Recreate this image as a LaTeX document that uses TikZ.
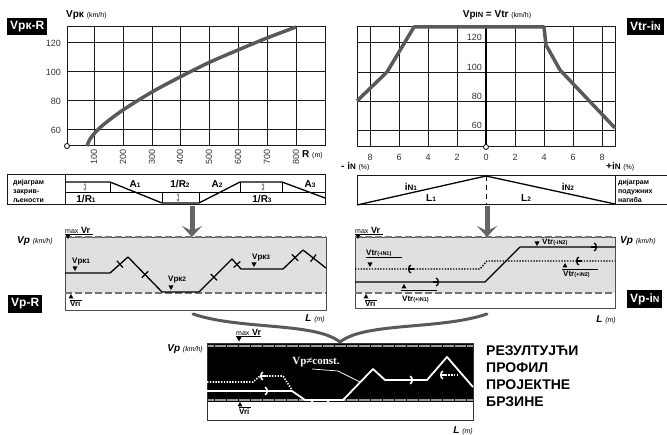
\documentclass[tikz,border=0pt]{standalone}
\usepackage{fontspec}
\setmainfont{Liberation Sans}
\newfontfamily\constfont{Liberation Serif}
\usetikzlibrary{arrows.meta,calc}
\tikzstyle{tag}=[fill=black, text=white, anchor=west, minimum height=17pt, inner xsep=3pt, font=\bfseries\fontsize{12}{12}\selectfont]
\tikzstyle{num}=[inner sep=1pt, text=black!80, font=\fontsize{9}{9}\selectfont]
\tikzstyle{axis}=[inner sep=1pt, anchor=west, font=\bfseries\fontsize{10}{10}\selectfont]
\tikzstyle{gridline}=[black!90, line width=1pt]
\tikzstyle{speed}=[black!65, line width=3.5pt, line join=round]
\tikzstyle{lab}=[inner sep=1pt, font=\bfseries\fontsize{10}{10}\selectfont]
\tikzstyle{small}=[inner sep=1pt, font=\bfseries\fontsize{8}{8}\selectfont]
\tikzstyle{note}=[inner sep=0pt, anchor=west, align=left, font=\bfseries\fontsize{7}{8.8}\selectfont]
\tikzstyle{limit}=[black!55, line width=1.6pt, dash pattern=on 7pt off 3pt]
\tikzstyle{prof}=[black, line width=1.3pt, line join=round]
\tikzstyle{dots}=[prof, dash pattern=on 1.4pt off 1.4pt]
\tikzstyle{bar}=[black, line width=1.2pt]
\tikzstyle{barb}=[-{Arc Barb[length=3pt,width=9pt]}]
\tikzstyle{gap}=[black!45, line width=0.7pt, {Latex[length=2.5pt,width=3.5pt]}-{Latex[length=2.5pt,width=3.5pt]}]
\tikzstyle{bigarrow}=[black!60, line width=5pt, -{Stealth[length=11pt,width=20pt,inset=5pt]}]
\tikzstyle{brace}=[black!65, line width=3pt, line cap=round]
\newcommand{\low}[1]{{\fontsize{6.5}{6.5}\selectfont #1}}
\newcommand{\unitx}[1]{{\mdseries\fontsize{7}{7}\selectfont #1}}
\newcommand{\vtr}[1]{Vtr{\fontsize{5.5}{5.5}\selectfont(#1)}}
\newcommand{\dtri}[2]{\fill (#1-2.5,#2-4.5) -- (#1+2.5,#2-4.5) -- (#1,#2) -- cycle;}
\newcommand{\utri}[2]{\fill (#1-2.5,#2+4.5) -- (#1+2.5,#2+4.5) -- (#1,#2) -- cycle;}

\begin{document}
\begin{tikzpicture}[x=1pt,y=-1pt]
\useasboundingbox (0,0) rectangle (667,435);

% Vpk - R
\node[tag] (vkr) at (7,26.5) {Vpк-R};
\foreach \x in {94,123,152,180,209,238,267,296} \draw[gridline] (\x,27) -- (\x,146);
\foreach \y in {43,72,101,130} \draw[gridline] (67,\y) -- (325,\y);
\draw[gridline] (67,27) rectangle (325,146);
\draw[speed] plot[smooth] coordinates {(87,146) (89,141) (93,135) (103,125) (123,110) (152,92) (180,77) (208,63) (238,50) (267,38) (296,27)};
\foreach \y/\v in {43/120,72/100,101/80,130/60} \node[num, anchor=east] at (62,\y) {\v};
\foreach \x/\r in {94/100,123/200,152/300,180/400,209/500,238/600,267/700,296/800} \node[num, rotate=90] at (\x,157) {\r};
\node[axis] (vk) at (65,15) {Vpк \unitx{(km/h)}};
\node[axis] (rm) at (301,155) {R \unitx{(m)}};
\draw[fill=white, line width=0.8pt] (67,146) circle (2.5pt);

% Vtr - iN
\node[tag] (vti) at (627,26.5) {Vtr-i{\fontsize{9}{9}\selectfont N}};
\foreach \x in {370,399,428,457,515,544,573,602} \draw[gridline] (\x,27) -- (\x,147);
\foreach \y in {43,73,102,131} \draw[gridline] (357,\y) -- (615,\y);
\draw[gridline] (357,27) rectangle (615,147);
\draw[black, line width=1.5pt] (486,27) -- (486,147);
\draw[speed] (357,101) -- (387,72) -- (402,47) -- (414,27) -- (544,27) -- (546,45) -- (560,70) -- (615,128);
\foreach \y/\v in {42/120,72/100,101/80,130/60} \node[num, anchor=south east] at (483,\y) {\v};
\foreach \x/\t in {370/8,399/6,428/4,457/2,486/0,515/2,544/4,573/6,602/8} \node[num] at (\x,157) {\t};
\node[lab] (vpin) at (497,15) {Vp{\fontsize{7.5}{7.5}\selectfont IN} = Vtr \unitx{(km/h)}};
\node[axis] (imin) at (340,167) {- i{\fontsize{8}{8}\selectfont N} \unitx{(\%)}};
\node[axis] (iplus) at (605,167) {+i{\fontsize{8}{8}\selectfont N} \unitx{(\%)}};
\draw[fill=white, line width=0.8pt] (486,147) circle (2.5pt);

% curvature diagram
\draw[gridline] (7,175) rectangle (325,205);
\draw[gridline] (65,175) -- (65,205);
\draw[black, line width=0.6pt] (65,192) -- (325,192);
\foreach \x/\a/\b in {110/182/192,162/192/203,199/192/203,240/182/192,282/182/192} \draw[black, line width=0.6pt] (\x,\a) -- (\x,\b);
\draw[prof] (65,182) -- (110,182) -- (162,203) -- (199,203) -- (240,182) -- (282,182) -- (325,198);
\foreach \x/\a/\b in {85/183/191,178/193/202,263/183/191} \draw[gap] (\x,\a) -- (\x,\b);
\node[note] (crv) at (13,191) {дијаграм\\закрив-\\љености};
\node[lab] (a1) at (135,184) {A\low{1}};
\node[lab] (r2) at (180,184) {1/R\low{2}};
\node[lab] (a2) at (217,184) {A\low{2}};
\node[lab] (a3) at (310,184) {A\low{3}};
\node[lab] (r1) at (86,199) {1/R\low{1}};
\node[lab] (r3) at (262,199) {1/R\low{3}};

% grade diagram
\draw[gridline] (357,176) rectangle (672,205);
\draw[gridline] (615,176) -- (615,205);
\draw[prof] (357,205) -- (486,176) -- (615,204);
\draw[black, line width=0.8pt, dash pattern=on 5pt off 4pt] (486,176) -- (486,205);
\node[note] (grd) at (618,191) {дијаграм\\подужних\\нагиба};
\node[lab] (in1) at (411,187) {i{\fontsize{8}{8}\selectfont N}\low{1}};
\node[lab] (l1) at (431,198) {L\low{1}};
\node[lab] (l2) at (526,198) {L\low{2}};
\node[lab] (in2) at (568,187) {i{\fontsize{8}{8}\selectfont N}\low{2}};

\draw[bigarrow] (192,206) -- (192,237);
\draw[bigarrow] (487,206) -- (487,237);

% Vp - R
\fill[black!12] (65,237) rectangle (326,293);
\draw[black!70, line width=0.8pt] (65,237) rectangle (326,310);
\draw[limit] (65,237) -- (326,237);
\draw[limit] (65,293) -- (326,293);
\coordinate (k0) at (65,273);
\coordinate (k1) at (110,273);
\coordinate (k2) at (128,257);
\coordinate (k3) at (162,292);
\coordinate (k4) at (199,292);
\coordinate (k5) at (232,259);
\coordinate (k6) at (241,269);
\coordinate (k7) at (283,269);
\coordinate (k8) at (303,250);
\coordinate (k9) at (326,268);
\draw[prof] (k0) -- (k1) -- (k2) -- (k3) -- (k4) -- (k5) -- (k6) -- (k7) -- (k8) -- (k9);
\foreach \a/\b/\p in {k1/k2/0.55,k2/k3/0.5,k4/k5/0.45,k5/k6/0.55,k7/k8/0.6,k8/k9/0.45}
  \draw[bar] ($(\a)!\p!(\b)!4.5pt!90:(\b)$) -- ($(\a)!\p!(\b)!4.5pt!-90:(\b)$);
\dtri{75}{271}
\node[small, anchor=west] (vk1) at (71,262) {Vpк\low{1}};
\dtri{171}{290}
\node[small, anchor=west] (vk2) at (167,280) {Vpк\low{2}};
\dtri{254}{267}
\node[small, anchor=west] (vk3) at (251,258) {Vpк\low{3}};
\node[axis] (vpl) at (16,241) {\itshape Vp \unitx{(km/h)}};
\node[inner sep=0pt, anchor=south west] (mxl) at (65,233.5) {\unitx{max} \textbf{\fontsize{9}{9}\selectfont Vr}};
\draw[black, line width=0.5pt] (65,234.5) -- (93,234.5);
\dtri{68}{239}
\utri{71}{294}
\draw[black, line width=0.5pt] (70,300) -- (82,300);
\node[small, anchor=north west, inner sep=0pt] (vril) at (70,301) {Vri};
\node[tag, minimum height=18pt] (vpr) at (8,304) {Vp-R};
\node[axis, anchor=east] (ll) at (326,319) {\itshape L \unitx{(m)}};

% Vp - iN
\fill[black!12] (355,237) rectangle (615,293);
\draw[black!70, line width=0.8pt] (355,237) rectangle (615,308);
\draw[limit] (355,237) -- (615,237);
\draw[limit] (355,293) -- (615,293);
\draw[prof] (355,282) -- (485,282) -- (520,247) -- (615,247);
\draw[dots] (355,269) -- (480,269) -- (487,261) -- (615,261);
\draw[prof, barb] (433,282) -- (439,282);
\draw[prof, barb] (591,247) -- (597,247);
\draw[prof, barb] (414,269) -- (408,269);
\draw[prof, barb] (582,261) -- (576,261);
\node[small, anchor=south west, inner sep=0pt] (t1) at (366,256.5) {\vtr{-iN1}};
\draw[black, line width=0.5pt] (366,257.5) -- (402,257.5);
\dtri{370}{267}
\dtri{537}{246}
\node[small, anchor=west] (t2) at (541,242) {\vtr{-iN2}};
\utri{565}{263}
\draw[black, line width=0.5pt] (562,269.5) -- (598,269.5);
\node[small, anchor=north west, inner sep=0pt] (t3) at (563,271) {\vtr{+iN2}};
\utri{404}{284}
\draw[black, line width=0.5pt] (401,290) -- (437,290);
\node[small, anchor=north west, inner sep=0pt] (t4) at (402,295.5) {\vtr{+iN1}};
\node[inner sep=0pt, anchor=south west] (mxr) at (355,233.5) {\unitx{max} \textbf{\fontsize{9}{9}\selectfont Vr}};
\draw[black, line width=0.5pt] (355,234.5) -- (383,234.5);
\dtri{358}{239}
\utri{366}{294}
\draw[black, line width=0.5pt] (365,300) -- (377,300);
\node[small, anchor=north west, inner sep=0pt] (vrir) at (365,301) {Vri};
\node[axis] (vpr2) at (619,241) {\itshape Vp \unitx{(km/h)}};
\node[tag, minimum height=18pt] (vpi) at (627,299) {Vp-i{\fontsize{9}{9}\selectfont N}};
\node[axis, anchor=east] (lr) at (617,320) {\itshape L \unitx{(m)}};

\draw[brace] (193,314) .. controls (240,330) and (315,322) .. (340,342) .. controls (365,322) and (440,330) .. (487,314);

% resulting profile
\fill[black] (207,343) rectangle (473,402);
\draw[black!40, line width=2.2pt] (207,346) -- (473,346);
\draw[black!40, line width=2.2pt] (207,400) -- (473,400);
\foreach \x in {214,226,...,470} {
  \draw[black, line width=0.6pt] (\x,344) -- (\x,348);
  \draw[black, line width=0.6pt] (\x,398) -- (\x,402);
}
\draw[black!80, line width=0.8pt] (207,343) rectangle (473,420);
\draw[white, line width=1.8pt, line join=round] (207,391) -- (292,391) -- (305,400) -- (343,400) -- (373,369) -- (385,380) -- (427,380) -- (447,357) -- (473,387);
\draw[white, line width=1.6pt, dash pattern=on 1.4pt off 1.4pt] (207,382) -- (253,382) -- (260,376) -- (283,376) -- (292,390);
\draw[white, line width=1.6pt, dash pattern=on 1.4pt off 1.4pt] (440,375) -- (458,375);
\draw[white, line width=1.6pt, barb] (262,391) -- (268,391);
\draw[white, line width=1.6pt, barb] (407,380) -- (413,380);
\draw[white, line width=1.6pt, barb] (266,376) -- (260,376);
\draw[white, line width=1.6pt, barb] (446,375) -- (440,375);
\fill[white] (312,402) circle (1.5pt) (328,402) circle (1.5pt);
\node[text=white, inner sep=0pt, font=\constfont\bfseries\fontsize{11}{11}\selectfont] (vpc) at (316,362) {Vp≠const.};
\draw[white, line width=0.7pt] (312,369) -- (338,371) -- (360,382);
\node[inner sep=0pt, anchor=south west] (mxb) at (236,335.5) {\unitx{max} \textbf{\fontsize{9}{9}\selectfont Vr}};
\draw[black, line width=0.5pt] (236,336.5) -- (261,336.5);
\dtri{239}{341.5}
\utri{240}{402}
\draw[black, line width=0.5pt] (239,407.5) -- (251,407.5);
\node[small, anchor=north west, inner sep=0pt] (vrib) at (239,408.5) {Vri};
\node[axis, anchor=east] (vpb) at (204,349) {\itshape Vp \unitx{(km/h)}};
\node[axis, anchor=east] (lb) at (474,431) {\itshape L \unitx{(m)}};
\node[anchor=north west, align=left, inner sep=0pt, font=\bfseries\fontsize{14}{16.7}\selectfont] (res) at (486,346) {РЕЗУЛТУЈЋИ\\ПРОФИЛ\\ПРОЈЕКТНЕ\\БРЗИНЕ};
\end{tikzpicture}
\end{document}
